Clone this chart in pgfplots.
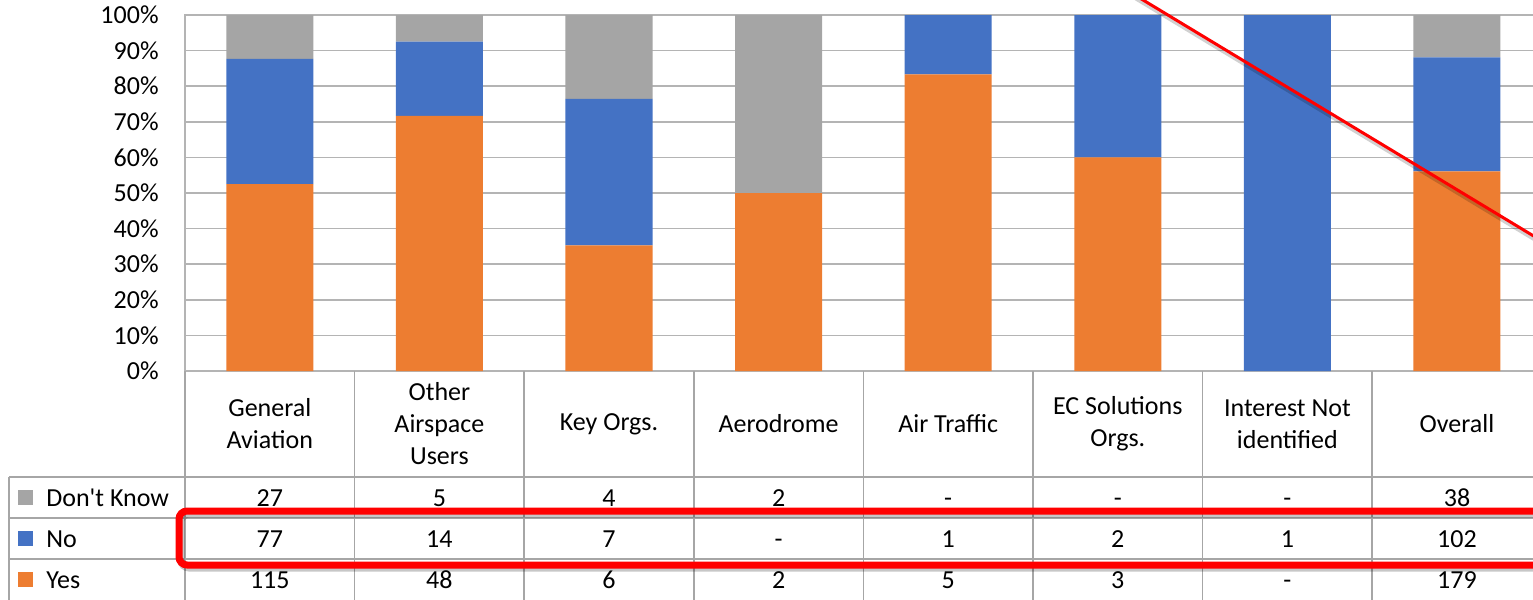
\documentclass[border=0pt]{standalone}
\usepackage{fontspec}
\setmainfont{Carlito}
\usepackage{pgfplots}
\pgfplotsset{compat=1.18}
\usepackage{pgfplotstable}
\definecolor{cyes}{HTML}{ED7D31}
\definecolor{cno}{HTML}{4472C4}
\definecolor{cdk}{HTML}{A5A5A5}
\definecolor{gridc}{HTML}{B4B4B4}
\definecolor{tabc}{HTML}{A6A6A6}
\definecolor{redc}{HTML}{FF0000}

% percentages of each group (Yes / No / Don't Know)
\pgfplotstableread{
x yes no dk
0 52.51 35.16 12.33
1 71.64 20.90 7.46
2 35.29 41.18 23.53
3 50.00 0.00 50.00
4 83.33 16.67 0.00
5 60.00 40.00 0.00
6 0.00 100.00 0.00
7 56.11 31.97 11.91
}\datatable

\begin{document}
\begin{tikzpicture}[font=\fontsize{13}{16}\selectfont]
\path[use as bounding box] (0,0) rectangle (766.5pt,-300pt);
\clip (0,0) rectangle (766.5pt,-300pt);
\begin{axis}[
 at={(92.5pt,-185.5pt)}, anchor=south west,
 scale only axis, width=678.4pt, height=178pt,
 xmin=-0.5, xmax=7.5, ymin=0, ymax=100,
 ybar stacked, bar width=43.5pt,
 ytick={0,10,...,100},
 yticklabels={0\%,10\%,20\%,30\%,40\%,50\%,60\%,70\%,80\%,90\%,100\%},
 xtick=\empty,
 major tick length=0pt,
 ymajorgrids, grid style={gridc, line width=0.75pt},
 axis line style={gridc, line width=0.75pt},
 yticklabel style={inner sep=0pt, xshift=-13pt, font=\fontsize{13}{16}\selectfont},
 clip=false,
]
\addplot[fill=cyes, draw=none] table[x=x,y=yes]{\datatable};
\addplot[fill=cno, draw=none] table[x=x,y=no]{\datatable};
\addplot[fill=cdk, draw=none] table[x=x,y=dk]{\datatable};
\end{axis}

\begin{scope}[x=0.5pt,y=-0.5pt]
 % table grid
 \foreach \yy in {477,518,559} {\draw[tabc, line width=0.75pt] (9,\yy) -- (1560,\yy);}
 \draw[tabc, line width=0.75pt] (9,477) -- (9,610);
 \draw[tabc, line width=0.75pt] (185,371) -- (185,610);
 \foreach \i in {1,...,8} {\draw[tabc, line width=0.75pt] ({185+169.6*\i},371) -- ({185+169.6*\i},610);}
 % legend keys
 \fill[cdk] (18,490) rectangle (33,505);
 \fill[cno] (18,531) rectangle (33,546);
 \fill[cyes] (18,572) rectangle (33,587);
 \node[anchor=base west, inner sep=0pt] at (46,506.5) {Don\textquotesingle t Know};
 \node[anchor=base west, inner sep=0pt] at (46,547.5) {No};
 \node[anchor=base west, inner sep=0pt] at (46,588.5) {Yes};
 % category labels
 \foreach \lab [count=\i from 0] in {{General\\Aviation},{Other\\Airspace\\Users},{Key Orgs.},{Aerodrome},{Air Traffic},{EC Solutions\\Orgs.},{Interest Not\\identified},{Overall}}
  {\node[align=center, inner sep=0pt] at ({269.8+169.6*\i},424) {\lab};}
 % table values
 \foreach \v [count=\i from 0] in {27,5,4,2,-,-,-,38}
  {\node[anchor=base, inner sep=0pt] at ({269.8+169.6*\i},506.5) {\v};}
 \foreach \v [count=\i from 0] in {77,14,7,-,1,2,1,102}
  {\node[anchor=base, inner sep=0pt] at ({269.8+169.6*\i},547.5) {\v};}
 \foreach \v [count=\i from 0] in {115,48,6,2,5,3,-,179}
  {\node[anchor=base, inner sep=0pt] at ({269.8+169.6*\i},588.5) {\v};}
 % annotations
 \draw[black, opacity=0.22, line width=3.5pt, rounded corners=4pt] (181,514) rectangle (1570,568);
 \draw[redc, line width=3.5pt, rounded corners=4pt] (179,511) rectangle (1570,565);
 \draw[black, opacity=0.18, line width=1.8pt] (1100,-23) -- (1570,261);
 \draw[redc, line width=1.5pt] (1100,-26) -- (1570,258);
\end{scope}
\end{tikzpicture}
\end{document}
